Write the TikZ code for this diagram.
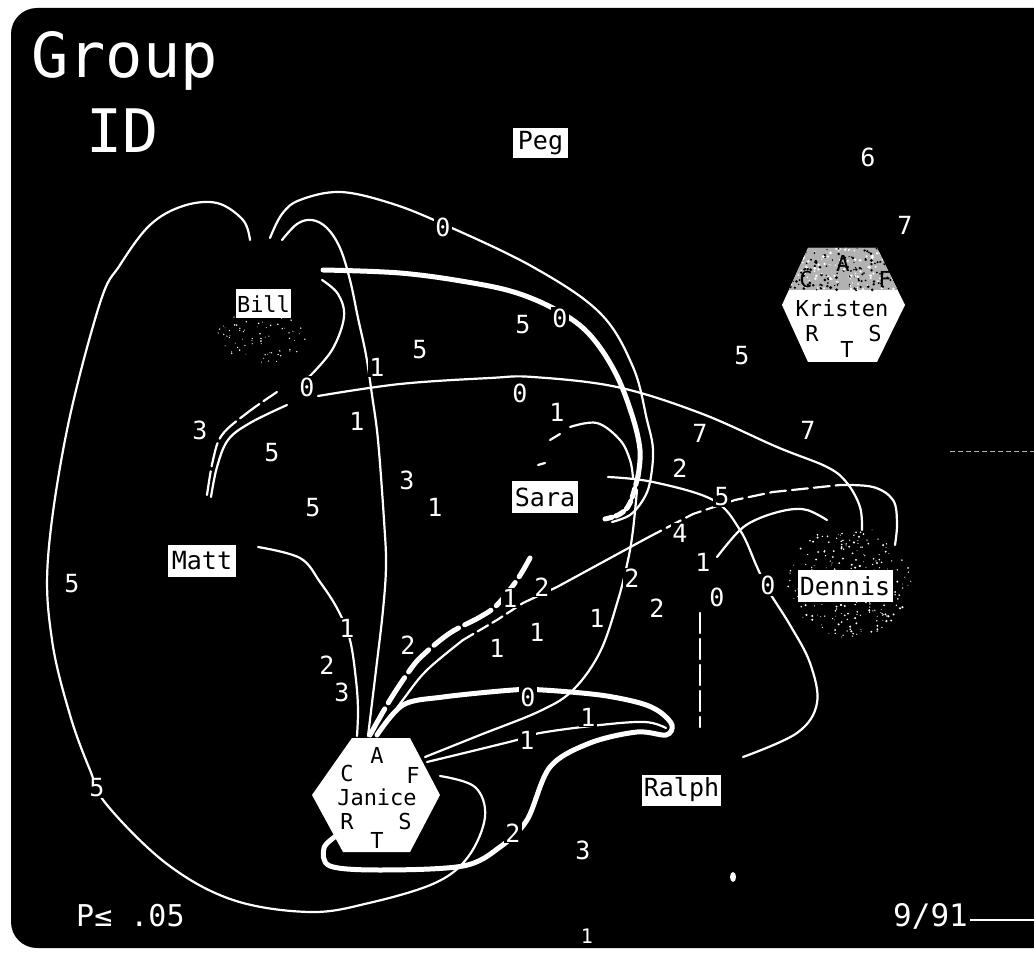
\documentclass[tikz,border=0pt]{standalone}
\usepackage{fontspec}
\newfontfamily\pf{DejaVu Sans Mono}
\begin{document}
\begin{tikzpicture}[x=1pt,y=-1pt,
  wl/.style={draw=white,line width=2.2pt,line cap=round,line join=round},
  wt/.style={draw=white,line width=5pt,line cap=round,line join=round},
  num/.style={text=white,fill=black,font=\pf\fontsize{25}{25}\selectfont,inner sep=1.2pt},
  namebox/.style={fill=white,text=black,font=\pf\fontsize{25}{25}\selectfont,inner sep=0pt},
  hexl/.style={text=black,font=\pf\fontsize{22}{22}\selectfont,inner sep=0pt},
  title/.style={text=white,inner sep=0pt,anchor=base west},
]
\useasboundingbox (0,0) rectangle (1034,957);
\fill[white] (0,0) rectangle (1034,957);
\fill[black,rounded corners=26pt] (11,8) rectangle (1060,948);

% speckles
\pgfmathsetseed{7}
\foreach \i in {1,...,260}{
  \pgfmathsetmacro\ang{360*rnd}
  \pgfmathsetmacro\rr{62*sqrt(rnd)}
  \pgfmathsetmacro\ss{0.4+0.8*rnd}
  \fill[white] ({850+\rr*cos(\ang)},{582+0.9*\rr*sin(\ang)}) circle (\ss);
}
\foreach \i in {1,...,70}{
  \pgfmathsetmacro\ang{360*rnd}
  \pgfmathsetmacro\rr{45*sqrt(rnd)}
  \pgfmathsetmacro\ss{0.4+0.5*rnd}
  \fill[white] ({262+\rr*cos(\ang)},{338+0.6*\rr*sin(\ang)}) circle (\ss);
}

% endpoints
\coordinate (bTop1) at (250,240);
\coordinate (jF) at (440,776);
\coordinate (bTop2) at (270,238);
\coordinate (saraHook) at (612,522);
\coordinate (bRight) at (323,270);
\coordinate (bTop3) at (282,240);
\coordinate (jTop) at (368,736);
\coordinate (mattR) at (258,547);
\coordinate (dTop) at (862,530);
\coordinate (dRight) at (895,545);
\coordinate (ralphL) at (743,757);

% outer loop Bill - Janice
\draw[wl] plot[smooth,tension=0.6] coordinates {(bTop1) (243,220) (217,203) (183,206) (150,225) (120,265) (100,303) (67,430) (48,558) (52,640) (70,715) (90,770) (107,805) (167,864) (233,900) (310,912) (369,903) (435,883) (468,857) (485,817) (475,787) (jF)};
% thin Bill - Sara arc
\draw[wl] plot[smooth,tension=0.6] coordinates {(bTop2) (282,214) (300,200) (340,192) (390,203) (443,224) (533,267) (600,313) (633,367) (647,420) (653,450) (650,482) (643,500) (630,515) (saraHook)};
% thick Bill - Sara
\draw[wt] plot[smooth,tension=0.6] coordinates {(bRight) (400,273) (467,282) (517,293) (560,312) (590,335) (615,372) (632,415) (640,450) (638,476)};
\draw[wt,dash pattern=on 9pt off 4pt] plot[smooth,tension=0.6] coordinates {(638,476) (630,503) (620,514) (605,519)};
% Bill - Janice thin
\draw[wl] plot[smooth,tension=0.6] coordinates {(bTop3) (297,224) (312,220) (327,228) (340,248) (350,280) (358,318) (366,355) (372,395) (378,440) (384,520) (386,565) (383,610) (376,670) (jTop)};
% Matt - Janice
\draw[wl] plot[smooth,tension=0.6] coordinates {(mattR) (300,558) (320,582) (338,610) (350,640) (356,680) (358,710) (357,736)};
% Bill right arc
\draw[wl] plot[smooth,tension=0.6] coordinates {(322,280) (338,294) (344,317) (332,350) (308,378)};
% long line to Dennis
\draw[wl] plot[smooth,tension=0.6] coordinates {(318,396) (400,384) (490,378) (533,377) (617,387) (700,413) (777,447) (827,467) (847,483) (860,507) (dTop)};
% Matt double arcs
\draw[wl,dash pattern=on 24pt off 5pt] plot[smooth,tension=0.6] coordinates {(207,495) (213,460) (222,435) (247,413) (277,392)};
\draw[wl] plot[smooth,tension=0.6] coordinates {(211,497) (217,467) (228,440) (250,423) (287,405)};
% thick Janice - Ralph loop
\draw[wt] plot[smooth,tension=0.55] coordinates {(336,836) (324,848) (330,866) (380,870) (463,866) (500,847) (527,820) (550,767) (590,743) (637,732) (666,735) (672,725) (660,712) (640,703) (600,695) (543,690) (513,690) (443,697) (403,705) (377,735)};
% Janice F lines
\draw[wl] plot[smooth,tension=0.6] coordinates {(427,762) (513,741) (540,733) (600,725) (645,722) (666,728)};
\draw[wl] plot[smooth,tension=0.6] coordinates {(425,757) (480,735) (540,711) (573,690) (600,652) (618,600) (628,560) (633,530) (637,490)};
% thick dashed Janice - Sara
\draw[wt,dash pattern=on 30pt off 7pt] plot[smooth,tension=0.6] coordinates {(370,735) (390,700) (410,670) (423,655) (450,633) (480,617) (497,605) (517,580) (530,558)};
% Janice - Dennis
\draw[wl] plot[smooth,tension=0.6] coordinates {(383,728) (405,697) (427,670) (463,640)};
\draw[wl,dash pattern=on 12pt off 5pt] (463,640) -- (497,620) -- (523,603);
\draw[wl] (523,603) -- (557,587) -- (647,538);
\draw[wl,dash pattern=on 16pt off 6pt] (647,538) -- (693,514) -- (735,500) -- (773,492) -- (840,485);
\draw[wl] plot[smooth,tension=0.6] coordinates {(840,485) (873,487) (893,500) (897,523) (dRight)};
% Sara - Ralph
\draw[wl] plot[smooth,tension=0.6] coordinates {(608,477) (653,482) (713,500) (740,530) (757,567) (768,590) (790,625) (810,663) (817,703) (797,733) (ralphL)};
% Dennis - Ralph
\draw[wl] plot[smooth,tension=0.6] coordinates {(827,520) (807,510) (787,510) (760,518) (740,530) (717,557)};
\draw[wl,dash pattern=on 20pt off 6pt] (700,613) -- (700,727);
% small arc near Sara
\draw[wl] plot[smooth,tension=0.6] coordinates {(570,427) (597,423) (620,440) (630,460) (633,478)};
\draw[wl] (550,440) -- (560,434);
\draw[wl] (538,465) -- (545,463);
% right dotted trace
\draw[white!70!black,line width=1pt,dash pattern=on 5pt off 3pt] (950,452) -- (1034,452);
\fill[white] (733,877) ellipse (3 and 5);

% labels
\foreach \t/\x/\y [count=\k] in {0/443/227, 5/523/325, 0/560/318, 5/420/350, 1/377/367, 5/742/356, 0/307/387, 0/520/393, 1/557/412, 3/200/430, 1/357/421, 7/700/433, 7/808/430, 5/272/453, 2/680/468, 3/407/480, 5/722/497, 1/435/507, 5/313/508, 4/680/533, 1/703/562, 2/542/587, 2/632/578, 0/717/597, 0/768/585, 1/510/598, 2/657/608, 1/597/618, 1/537/632, 1/497/648, 1/347/628, 2/408/645, 2/327/665, 3/342/692, 0/528/697, 1/588/717, 1/527/740, 2/513/833, 3/583/850, 5/72/584, 5/97/788, 6/868/157, 7/905/225}
  \node[num] (lab\k) at (\x,\y) {\t};
\node[num,fill=none,font=\pf\fontsize{20}{20}\selectfont] (labBottom) at (587,936) {1};

% name boxes
\node[namebox,minimum width=55pt,minimum height=30pt] (peg) at (540.5,143) {Peg};
\node[namebox,minimum width=55pt,minimum height=29pt,font=\pf\fontsize{22}{22}\selectfont] (bill) at (263.5,304) {Bill};
\node[namebox,minimum width=68pt,minimum height=32pt] (matt) at (202,561) {Matt};
\node[namebox,minimum width=66pt,minimum height=31pt] (sara) at (545,497) {Sara};
\node[namebox,minimum width=79pt,minimum height=31pt] (ralph) at (681.5,790) {Ralph};
\node[namebox,minimum width=95pt,minimum height=32pt] (dennis) at (845,586) {Dennis};

% Janice hexagon
\fill[white] (352,738) -- (410,738) -- (440,795) -- (410,852) -- (343,852) -- (312,795) -- cycle;
\node[hexl] (jA) at (377,755) {A};
\node[hexl] (jC) at (347,773) {C};
\node[hexl] (jFl) at (413,775) {F};
\node[hexl] (janice) at (377,797) {Janice};
\node[hexl] (jR) at (347,821) {R};
\node[hexl] (jS) at (405,821) {S};
\node[hexl] (jT) at (377,840) {T};

% Kristen hexagon
\begin{scope}
\clip (782,305) -- (808,248) -- (877,248) -- (905,305) -- (877,362) -- (808,362) -- cycle;
\fill[white] (770,240) rectangle (915,370);
\fill[gray!60] (770,240) rectangle (915,290);
\foreach \i in {1,...,160}{
  \pgfmathsetmacro\px{785+120*rnd}
  \pgfmathsetmacro\py{246+44*rnd}
  \pgfmathsetmacro\ss{0.6+1.0*rnd}
  \fill[black] (\px,\py) circle (\ss);
}
\foreach \i in {1,...,120}{
  \pgfmathsetmacro\px{785+120*rnd}
  \pgfmathsetmacro\py{246+44*rnd}
  \pgfmathsetmacro\ss{0.6+1.0*rnd}
  \fill[white] (\px,\py) circle (\ss);
}
\end{scope}
\node[hexl] (kA) at (843,263) {A};
\node[hexl] (kC) at (806,279) {C};
\node[hexl] (kF) at (885,279) {F};
\node[hexl] (kristen) at (842,308) {Kristen};
\node[hexl] (kR) at (812,333) {R};
\node[hexl] (kS) at (875,333) {S};
\node[hexl] (kT) at (847,349) {T};

% titles
\node[title,font=\pf\fontsize{62}{62}\selectfont] (group) at (31,78) {Group};
\node[title,font=\pf\fontsize{60}{60}\selectfont] (id) at (86,153) {ID};
\node[title,font=\pf\fontsize{30}{30}\selectfont] (pval) at (76,926) {P≤ .05};
\node[title,font=\pf\fontsize{31}{31}\selectfont] (date) at (893,926) {9/91};
\coordinate (dateEnd) at (1034,920);
\draw[white,line width=2pt] (date.east |- dateEnd) ++(2,0) -- (dateEnd);
\end{tikzpicture}
\end{document}
